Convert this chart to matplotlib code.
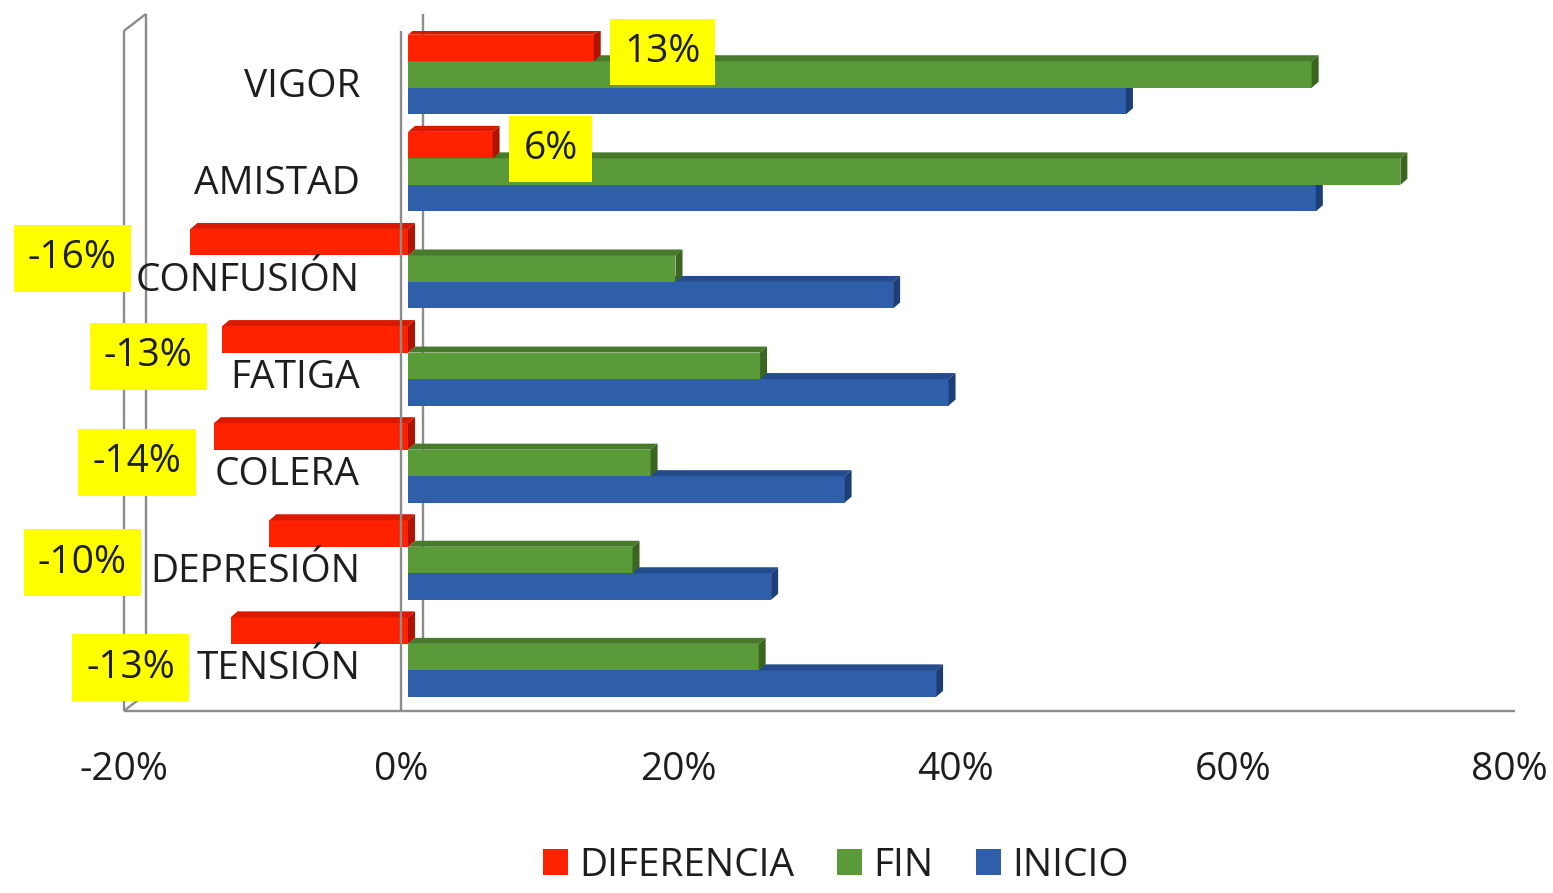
import matplotlib
matplotlib.use('Agg')
import matplotlib.pyplot as plt
from matplotlib.patches import Polygon, Patch
from matplotlib.transforms import ScaledTranslation

# ---------------- data ----------------
categories = ['VIGOR', 'AMISTAD', 'CONFUSIÓN', 'FATIGA', 'COLERA', 'DEPRESIÓN', 'TENSIÓN']
inicio = [51.8, 65.5, 35.0, 39.0, 31.5, 26.2, 38.1]
fin = [65.2, 71.6, 19.3, 25.4, 17.5, 16.2, 25.3]
diferencia = [13.4, 6.1, -15.7, -13.4, -14.0, -10.0, -12.8]
series_names = ['DIFERENCIA', 'FIN', 'INICIO']
xticks = [-20, 0, 20, 40, 60, 80]
xtick_labels = ['-20%', '0%', '20%', '40%', '60%', '80%']

# ---------------- style ----------------
W, H, DPI = 1553, 893, 100
plt.rcParams['font.family'] = ['Open Sans', 'DejaVu Sans']
FS = 28
TXT = '#1E1E1E'
front_cols = {'DIFERENCIA': '#FF2200', 'FIN': '#5B9A38', 'INICIO': '#2F5FAA'}
top_cols = {'DIFERENCIA': '#D81A00', 'FIN': '#477A2A', 'INICIO': '#244C8C'}
side_cols = {'DIFERENCIA': '#B01400', 'FIN': '#3A6622', 'INICIO': '#1D3F78'}
label_offsets = [(69, 4), (58, 4), (-118, 16), (-74, 17), (-77, 26), (-187, 29), (-100, 37)]

fig = plt.figure(figsize=(W / DPI, H / DPI), dpi=DPI)
ax = fig.add_axes([130.8 / W, (H - 711) / H, 1386 / W, 680 / H])
XL = (-20, 80)
YL = (6.555, -0.448)
ax.set_xlim(*XL)
ax.set_ylim(*YL)
ax.axis('off')


def pdx(p):
    return p * (XL[1] - XL[0]) / 1386.0


def pdy(p):
    return p * (YL[0] - YL[1]) / 680.0


h = pdy(26.5)
ddx, ddy = pdx(7), pdy(6)

ypos = list(range(len(categories)))
series = {'DIFERENCIA': diferencia, 'FIN': fin, 'INICIO': inicio}
offsets = {'DIFERENCIA': -h, 'FIN': 0.0, 'INICIO': h}
zorders = {'INICIO': 2, 'FIN': 3, 'DIFERENCIA': 4}

for name in ['INICIO', 'FIN', 'DIFERENCIA']:
    vals = series[name]
    ys = [y + offsets[name] for y in ypos]
    z = zorders[name]
    ax.barh(ys, vals, height=h, color=front_cols[name], zorder=z, linewidth=0)
    for y, v in zip(ys, vals):
        xl, xr = min(0, v), max(0, v)
        yt, yb = y - h / 2, y + h / 2
        ax.add_patch(Polygon([(xl, yt), (xl + ddx, yt - ddy), (xr + ddx, yt - ddy), (xr, yt)],
                             closed=True, facecolor=top_cols[name], edgecolor='none', zorder=z))
        ax.add_patch(Polygon([(xr, yt), (xr + ddx, yt - ddy), (xr + ddx, yb - ddy), (xr, yb)],
                             closed=True, facecolor=side_cols[name], edgecolor='none', zorder=z))

# ---------------- 3D frame lines ----------------
fx = pdx(-7)
wx, wy = pdx(22), pdy(17)
LC, LW = '#8C8C8C', 1.7
ybot, ytop = YL
lines = [
    ([XL[0] + fx, XL[0] + fx], [ybot, ytop], 1),
    ([XL[0] + fx + wx, XL[0] + fx + wx], [ybot - wy, ytop - wy], 1),
    ([XL[0] + fx, XL[0] + fx + wx], [ytop, ytop - wy], 1),
    ([XL[0] + fx, XL[0] + fx + wx], [ybot, ybot - wy], 1),
    ([XL[0] + fx, XL[1] + fx + pdx(5)], [ybot, ybot], 1),
    ([0 + fx + wx, 0 + fx + wx], [ybot - wy, ytop - wy], 1),
    ([0 + fx, 0 + fx], [ybot, ytop], 10),
]
for xs, ys_, z in lines:
    ax.plot(xs, ys_, color=LC, lw=LW, zorder=z, clip_on=False, solid_capstyle='butt')

# ---------------- tick labels ----------------
tick_tr = ax.transData + ScaledTranslation(0, -59 / DPI, fig.dpi_scale_trans)
for t, lab in zip(xticks, xtick_labels):
    ax.text(t + fx, ybot, lab, transform=tick_tr, ha='center', va='center',
            fontsize=FS, color=TXT)

# ---------------- category labels ----------------
for y, cat in zip(ypos, categories):
    ax.text(pdx(-48), y + pdy(22), cat, ha='right', va='baseline', fontsize=FS,
            color=TXT, zorder=6)

# ---------------- data labels ----------------
for y, v, (ox, oy) in zip(ypos, diferencia, label_offsets):
    ax.annotate(f'{v:.0f}%', xy=(v, y - h), xytext=(ox * 72 / DPI, -oy * 72 / DPI),
                textcoords='offset points', ha='center', va='center', fontsize=FS,
                color=TXT, zorder=12,
                bbox=dict(boxstyle='square,pad=0.37', facecolor='#FFFF00', edgecolor='none'))

# ---------------- legend ----------------
handles = [Patch(facecolor=front_cols[n], edgecolor='none', label=n) for n in series_names]
fig.legend(handles=handles, loc='center', bbox_to_anchor=(836 / W, (H - 866) / H), ncol=3,
           frameon=False, fontsize=FS, handlelength=0.64, handleheight=0.64,
           handletextpad=0.31, columnspacing=1.08, borderpad=0, borderaxespad=0,
           labelcolor=TXT)

fig.savefig('out.png', dpi=DPI)
